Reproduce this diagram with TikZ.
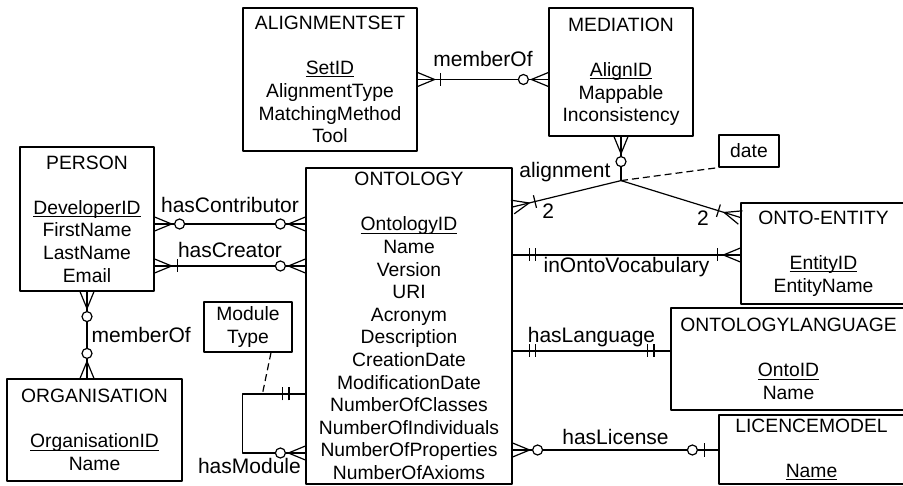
\documentclass[tikz,border=0pt]{standalone}
\usepackage{fontspec}
\setmainfont{Liberation Sans}
\usepackage{tikz}
\usetikzlibrary{positioning,calc}
\newcommand{\keyattr}[1]{\setbox0\hbox{#1}\rlap{\rule[-2.6pt]{\wd0}{1pt}}\box0}

\begin{document}
\begin{tikzpicture}[x=1pt,y=-1pt,line width=1.2pt,line join=round,
   ent/.style={draw,align=center,inner sep=0pt,
               font=\fontsize{19.3}{22.6}\selectfont},
   lbl/.style={inner sep=0pt,font=\fontsize{21}{24}\selectfont},
   mk/.style={sloped,allow upside down},
   assoc/.style={dash pattern=on 7pt off 4pt},
   pics/crowzero/.style={code={\begin{scope}[xscale=#1]
       \draw (0,-7) -- (-17,0) -- (0,7);
       \draw[fill=white] (-25,0) circle[radius=5];
     \end{scope}}},
   pics/crowone/.style={code={\begin{scope}[xscale=#1]
       \draw (0,-7) -- (-17,0) -- (0,7);
       \draw (-23,-6.5) -- (-23,6.5);
     \end{scope}}},
   pics/barbar/.style={code={\draw[xscale=#1] (-16.5,-6.5) -- (-16.5,6.5)
       (-23,-6.5) -- (-23,6.5);}},
   pics/barzero/.style={code={\begin{scope}[xscale=#1]
       \draw (-14,-6.5) -- (-14,6.5);
       \draw[fill=white] (-26,0) circle[radius=5];
     \end{scope}}}]
  \useasboundingbox (0,0) rectangle (903,486);
  % entities
  \node[ent,minimum width=134pt,minimum height=144pt] (person) at (87,219)
       {PERSON\\[22.6pt]\keyattr{DeveloperID}\\FirstName\\LastName\\Email};
  \node[ent,minimum width=175pt,minimum height=102pt] (organisation) at (94.5,430)
       {ORGANISATION\\[22.6pt]\keyattr{OrganisationID}\\Name};
  \node[ent,minimum width=88pt,minimum height=50pt] (moduletype) at (248,327)
       {Module\\Type};
  \node[ent,minimum width=174pt,minimum height=143pt] (alignset) at (330,79.5)
       {ALIGNMENTSET\\[22.6pt]\keyattr{SetID}\\AlignmentType\\MatchingMethod\\Tool};
  \node[ent,minimum width=144pt,minimum height=128pt] (mediation) at (621,72)
       {MEDIATION\\[22.6pt]\keyattr{AlignID}\\Mappable\\Inconsistency};
  \node[ent,minimum width=206pt,minimum height=316pt] (ontology) at (409,326)
       {ONTOLOGY\\[22.6pt]\keyattr{OntologyID}\\Name\\Version\\URI\\Acronym\\Description\\
        CreationDate\\ModificationDate\\NumberOfClasses\\NumberOfIndividuals\\
        NumberOfProperties\\NumberOfAxioms};
  \node[ent,minimum width=60pt,minimum height=32pt] (date) at (749,151) {date};
  \node[ent,minimum width=165pt,minimum height=101pt] (ontoentity) at (823.5,253.5)
       {ONTO-ENTITY\\[22.6pt]\keyattr{EntityID}\\EntityName};
  \node[ent,minimum width=235pt,minimum height=102pt] (ontolang) at (788.5,359)
       {ONTOLOGYLANGUAGE\\[22.6pt]\keyattr{OntoID}\\Name};
  \node[ent,minimum width=185pt,minimum height=69pt] (licence) at (811.5,449.5)
       {LICENCEMODEL\\[22.6pt]\keyattr{Name}};
  % relationships
  \coordinate (pcon) at ([yshift=-5pt]person.east);
  \draw (pcon) -- (pcon -| ontology.west)
       pic[pos=0,mk]{crowzero=-1} pic[pos=1,mk]{crowzero=1}
       node[lbl,midway,anchor=base,yshift=11pt]{hasContributor};
  \coordinate (pcre) at ([yshift=-47pt]person.east);
  \draw (pcre) -- (pcre -| ontology.west)
       pic[pos=0,mk]{crowone=-1} pic[pos=1,mk]{crowzero=1}
       node[lbl,midway,anchor=base,yshift=8pt]{hasCreator};
  \draw (person.south) -- (person.south |- organisation.north)
       pic[pos=0,mk]{crowzero=-1} pic[pos=1,mk]{crowzero=1}
       node[lbl,midway,anchor=west,xshift=4pt]{memberOf};
  \draw (alignset.east) -- (alignset.east -| mediation.west)
       pic[pos=0,mk]{crowone=-1} pic[pos=1,mk]{crowzero=1}
       node[lbl,midway,anchor=base,yshift=13pt]{memberOf};
  % ternary alignment
  \coordinate (junc) at ([yshift=-44pt]mediation.south);
  \draw (junc) -- (mediation.south) pic[pos=1,mk]{crowzero=1}
       node[lbl,pos=0,anchor=base east,xshift=-10pt,yshift=3pt]{alignment};
  \coordinate (oalign) at ([yshift=119pt]ontology.east);
  \draw (junc) -- (oalign) pic[pos=1,mk]{crowone=1}
       node[lbl,pos=1,anchor=base,xshift=35.5pt,yshift=-12pt]{2};
  \coordinate (ealign) at ([yshift=36pt]ontoentity.west);
  \draw (junc) -- (ealign) pic[pos=1,mk]{crowone=1}
       node[lbl,pos=1,anchor=base,xshift=-37.5pt,yshift=-8.5pt]{2};
  \draw[assoc] (junc) -- (date.south west);
  \coordinate (ivoc) at ([yshift=71pt]ontology.east);
  \draw (ivoc) -- (ivoc -| ontoentity.west)
       pic[pos=0,mk]{barbar=-1} pic[pos=1,mk]{crowone=1}
       node[lbl,midway,anchor=base,yshift=-18pt]{inOntoVocabulary};
  \coordinate (hlang) at ([yshift=-25pt]ontology.east);
  \draw (hlang) -- (hlang -| ontolang.west)
       pic[pos=0,mk]{barbar=-1} pic[pos=1,mk]{barbar=1}
       node[lbl,midway,anchor=base,yshift=8pt]{hasLanguage};
  \coordinate (hlic) at ([yshift=-124pt]ontology.east);
  \draw (hlic) -- (hlic -| licence.west)
       pic[pos=0,mk]{crowzero=-1} pic[pos=1,mk]{barzero=1}
       node[lbl,midway,anchor=base,yshift=6pt]{hasLicense};
  % recursive hasModule
  \coordinate (mtop) at ([yshift=-68pt]ontology.west);
  \coordinate (mbot) at ([yshift=-127pt]ontology.west);
  \coordinate (mtype) at ([xshift=-43pt]mtop);
  \draw (mtop) -- ([xshift=-63pt]mtop) pic[pos=0,mk]{barbar=-1}
       -- ([xshift=-63pt]mbot) -- (mbot) pic[pos=1,mk]{crowzero=1}
       node[lbl,pos=1,anchor=base east,xshift=-4pt,yshift=-20pt]{hasModule};
  \draw[assoc] ([xshift=23pt]moduletype.south) -- (mtype);
\end{tikzpicture}
\end{document}
